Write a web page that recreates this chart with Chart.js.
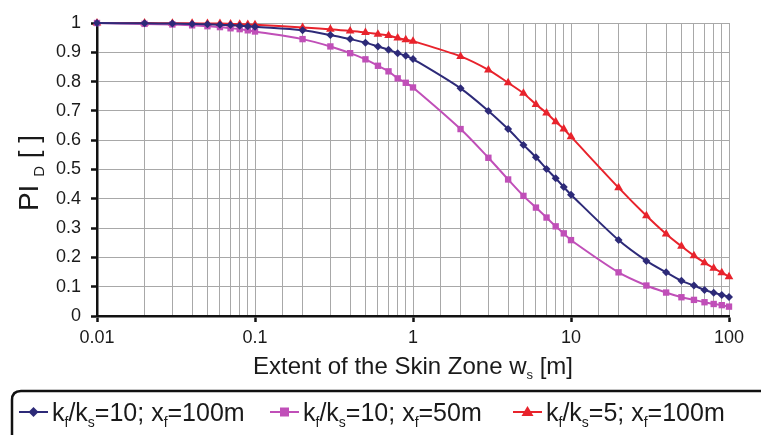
<!DOCTYPE html>
<html>
<head>
<meta charset="utf-8">
<script src="https://cdn.jsdelivr.net/npm/chart.js@4/dist/chart.umd.min.js"></script>
<style>
  html, body { margin: 0; padding: 0; background: #fff; }
  #wrap { width: 761px; height: 435px; }
</style>
</head>
<body>
<div id="wrap"><canvas id="c" width="761" height="435"></canvas></div>
<script>
// extent of the skin zone w_s [m]
var widths = [0.01, 0.02, 0.03, 0.04, 0.05, 0.06, 0.07, 0.08, 0.09,
              0.1, 0.2, 0.3, 0.4, 0.5, 0.6, 0.7, 0.8, 0.9,
              1, 2, 3, 4, 5, 6, 7, 8, 9,
              10, 20, 30, 40, 50, 60, 70, 80, 90, 100];

// kf/ks=10; xf=100m
var pi10x100 = [1.0, 0.999, 0.998, 0.997, 0.996, 0.994, 0.993, 0.991, 0.989,
                0.987, 0.975, 0.959, 0.945, 0.933, 0.92, 0.909, 0.897, 0.888,
                0.877, 0.777, 0.70, 0.638, 0.584, 0.542, 0.502, 0.47, 0.44,
                0.414, 0.259, 0.188, 0.149, 0.12, 0.104, 0.089, 0.079, 0.072, 0.065];

// kf/ks=10; xf=50m
var pi10x50 = [1.0, 0.997, 0.995, 0.992, 0.989, 0.986, 0.982, 0.979, 0.975,
               0.971, 0.945, 0.92, 0.897, 0.876, 0.854, 0.835, 0.811, 0.796,
               0.78, 0.638, 0.54, 0.466, 0.41, 0.37, 0.336, 0.306, 0.282,
               0.259, 0.149, 0.104, 0.08, 0.064, 0.055, 0.047, 0.041, 0.037, 0.032];

// kf/ks=5; xf=100m
var pi5x100 = [1.0, 1.0, 0.999, 0.999, 0.998, 0.998, 0.997, 0.996, 0.995,
               0.994, 0.985, 0.979, 0.973, 0.968, 0.962, 0.957, 0.949, 0.943,
               0.938, 0.886, 0.84, 0.796, 0.76, 0.722, 0.693, 0.663, 0.638,
               0.612, 0.438, 0.342, 0.28, 0.238, 0.206, 0.182, 0.163, 0.148, 0.134];

var yTicks = [0, 0.1, 0.2, 0.3, 0.4, 0.5, 0.6, 0.7, 0.8, 0.9, 1];

var NAVY = '#2d2a78';
var ORCHID = '#c04fb8';
var RED = '#e8232c';
var FONT = '"Liberation Sans", Arial, sans-serif';

function pairs(ys) {
    return widths.map(function(w, i) { return {x: w, y: ys[i]}; });
}

function isDecade(v) {
    var l = Math.log10(v);
    return Math.abs(l - Math.round(l)) < 1e-6;
}

// draw text pieces, some of them as subscripts
function richText(ctx, parts, x, y, size) {
    var cx = x;
    parts.forEach(function(p) {
        var sub = p[1];
        ctx.font = (sub ? Math.round(size * 0.55) : size) + 'px ' + FONT;
        ctx.fillText(p[0], cx, y + (sub ? size * 0.22 : 0));
        cx += ctx.measureText(p[0]).width;
    });
    return cx - x;
}

function richWidth(ctx, parts, size) {
    var w = 0;
    parts.forEach(function(p) {
        ctx.font = (p[1] ? Math.round(size * 0.55) : size) + 'px ' + FONT;
        w += ctx.measureText(p[0]).width;
    });
    return w;
}

var legendItems = [
    {color: NAVY, style: 'diamond', x: 19,
     parts: [['k'], ['f', 1], ['/k'], ['s', 1], ['=10; x'], ['f', 1], ['=100m']]},
    {color: ORCHID, style: 'square', x: 270,
     parts: [['k'], ['f', 1], ['/k'], ['s', 1], ['=10; x'], ['f', 1], ['=50m']]},
    {color: RED, style: 'triangle', x: 513,
     parts: [['k'], ['f', 1], ['/k'], ['s', 1], ['=5; x'], ['f', 1], ['=100m']]}
];

var decorations = {
    id: 'decorations',
    afterDraw: function(chart) {
        var ctx = chart.ctx;
        ctx.save();
        ctx.fillStyle = '#1a1a1a';
        ctx.textBaseline = 'alphabetic';
        ctx.textAlign = 'left';

        // x axis title
        var xt = [['Extent of the Skin Zone w'], ['s', 1], [' [m]']];
        var xw = richWidth(ctx, xt, 24);
        richText(ctx, xt, 413 - xw / 2, 374, 24);

        // y axis title
        ctx.save();
        ctx.translate(38, 173);
        ctx.rotate(-Math.PI / 2);
        var yt = [['PI '], ['D', 1], [' [ ]']];
        var yw = richWidth(ctx, yt, 28);
        richText(ctx, yt, -yw / 2, 0, 28);
        ctx.restore();

        // legend frame
        ctx.strokeStyle = '#111';
        ctx.lineWidth = 2.5;
        ctx.beginPath();
        ctx.moveTo(12, 440);
        ctx.lineTo(12, 400);
        ctx.quadraticCurveTo(12, 391, 21, 391);
        ctx.lineTo(761, 391);
        ctx.stroke();

        // legend entries
        legendItems.forEach(function(it) {
            var ly = 412;
            ctx.strokeStyle = it.color;
            ctx.fillStyle = it.color;
            ctx.lineWidth = 2;
            ctx.beginPath();
            ctx.moveTo(it.x, ly);
            ctx.lineTo(it.x + 29, ly);
            ctx.stroke();
            var mx = it.x + 14.5;
            ctx.beginPath();
            if (it.style === 'diamond') {
                ctx.moveTo(mx, ly - 5); ctx.lineTo(mx + 5, ly);
                ctx.lineTo(mx, ly + 5); ctx.lineTo(mx - 5, ly);
            } else if (it.style === 'square') {
                ctx.rect(mx - 4.5, ly - 4.5, 9, 9);
            } else {
                ctx.moveTo(mx, ly - 6); ctx.lineTo(mx + 6, ly + 4); ctx.lineTo(mx - 6, ly + 4);
            }
            ctx.closePath();
            ctx.fill();
            ctx.fillStyle = '#1a1a1a';
            richText(ctx, it.parts, it.x + 33, ly + 9, 25);
        });
        ctx.restore();
    }
};

new Chart(document.getElementById('c'), {
    type: 'line',
    data: {
        datasets: [
            {
                label: 'kf/ks=10; xf=100m',
                data: pairs(pi10x100),
                borderColor: NAVY,
                backgroundColor: NAVY,
                borderWidth: 2,
                pointStyle: 'rectRot',
                pointRadius: 4,
                pointBorderWidth: 0,
                tension: 0.3,
                clip: false
            },
            {
                label: 'kf/ks=10; xf=50m',
                data: pairs(pi10x50),
                borderColor: ORCHID,
                backgroundColor: ORCHID,
                borderWidth: 2,
                pointStyle: 'rect',
                pointRadius: 4.5,
                pointBorderWidth: 0,
                tension: 0.3,
                clip: false
            },
            {
                label: 'kf/ks=5; xf=100m',
                data: pairs(pi5x100),
                borderColor: RED,
                backgroundColor: RED,
                borderWidth: 2,
                pointStyle: 'triangle',
                pointRadius: 5,
                pointBorderWidth: 0,
                tension: 0.3,
                clip: false
            }
        ]
    },
    options: {
        responsive: false,
        animation: false,
        layout: {padding: {left: 0, right: 32, top: 23, bottom: 79}},
        plugins: {
            legend: {display: false},
            tooltip: {enabled: false}
        },
        scales: {
            x: {
                type: 'logarithmic',
                min: 0.01,
                max: 100,
                afterFit: function(s) { s.height = 40; },
                border: {color: '#111', width: 2.5},
                grid: {
                    color: function(c) { return c.tick && c.tick.value <= 0.0100001 ? 'rgba(0,0,0,0)' : '#a8a8a8'; },
                    lineWidth: 1,
                    tickLength: 6,
                    tickColor: function(c) { return c.tick && isDecade(c.tick.value) ? '#111' : 'rgba(0,0,0,0)'; },
                    tickWidth: 2.5
                },
                ticks: {
                    autoSkip: false,
                    maxRotation: 0,
                    padding: 5,
                    color: '#1a1a1a',
                    font: {family: FONT, size: 18},
                    callback: function(v) { return isDecade(v) ? String(+v.toPrecision(6)) : ''; }
                }
            },
            y: {
                min: 0,
                max: 1,
                afterFit: function(s) { s.width = 97; },
                afterBuildTicks: function(s) { s.ticks = yTicks.map(function(v) { return {value: v}; }); },
                border: {color: '#111', width: 2.5},
                grid: {
                    color: function(c) { return c.tick && c.tick.value === 0 ? 'rgba(0,0,0,0)' : '#a8a8a8'; },
                    lineWidth: 1,
                    tickLength: 6,
                    tickColor: '#111',
                    tickWidth: 2.5
                },
                ticks: {
                    padding: 10,
                    color: '#1a1a1a',
                    font: {family: FONT, size: 18},
                    callback: function(v) { return String(+v.toFixed(1)); }
                }
            }
        }
    },
    plugins: [decorations]
});
</script>
</body>
</html>
